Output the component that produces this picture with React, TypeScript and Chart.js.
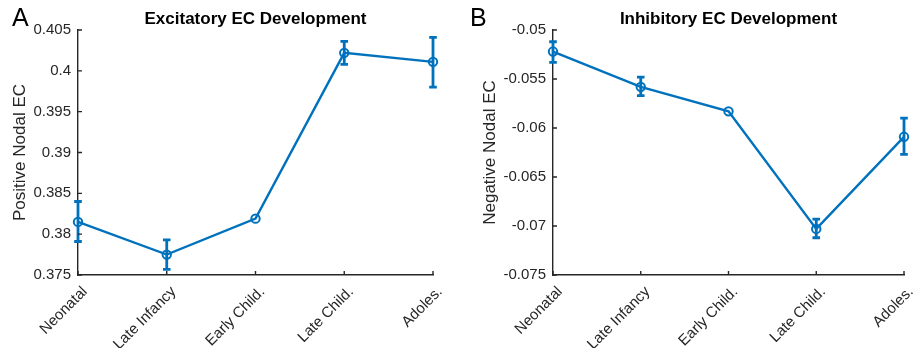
import React, { useEffect, useRef } from 'react';
import { Chart, registerables } from 'chart.js';
Chart.register(...registerables);

const categories = ['Neonatal', 'Late Infancy', 'Early Child.', 'Late Child.', 'Adoles.'];

const excMean = [0.3815, 0.3775, 0.3819, 0.4022, 0.4011];
const excLow = [0.3791, 0.3757, 0.3819, 0.4008, 0.398];
const excHigh = [0.384, 0.3793, 0.3819, 0.4036, 0.4041];
const excTicks = [0.375, 0.38, 0.385, 0.39, 0.395, 0.4, 0.405];

const inhMean = [-0.0522, -0.0558, -0.0583, -0.0703, -0.0609];
const inhLow = [-0.0533, -0.0567, -0.0583, -0.0712, -0.0627];
const inhHigh = [-0.0512, -0.0548, -0.0583, -0.0693, -0.059];
const inhTicks = [-0.075, -0.07, -0.065, -0.06, -0.055, -0.05];

const BLUE = '#0072BD';
const AXIS = '#262626';
const FONT = "'Liberation Sans', Arial, Helvetica, sans-serif";

type PanelProps = {
  left: number;
  width: number;
  height: number;
  axisLeft: number;
  padRight: number;
  yTitlePad: number;
  letter: string;
  title: string;
  yLabel: string;
  mean: number[];
  low: number[];
  high: number[];
  ticks: number[];
};

function Panel(p: PanelProps) {
  const ref = useRef<HTMLCanvasElement | null>(null);
  useEffect(() => {
    if (!ref.current) return;
    const errorBars = {
      id: 'errorBars',
      beforeDatasetsDraw(chart: any) {
        const { ctx } = chart;
        const x = chart.scales.x;
        const y = chart.scales.y;
        ctx.save();
        ctx.strokeStyle = BLUE;
        ctx.lineWidth = 2.8;
        p.mean.forEach((_m, i) => {
          if (Math.abs(p.high[i] - p.low[i]) < 1e-7) return;
          const px = x.getPixelForValue(i);
          const yt = y.getPixelForValue(p.high[i]);
          const yb = y.getPixelForValue(p.low[i]);
          ctx.beginPath();
          ctx.moveTo(px, yt);
          ctx.lineTo(px, yb);
          ctx.moveTo(px - 3.8, yt);
          ctx.lineTo(px + 3.8, yt);
          ctx.moveTo(px - 3.8, yb);
          ctx.lineTo(px + 3.8, yb);
          ctx.stroke();
        });
        ctx.restore();
      },
    };
    const decor = {
      id: 'decor',
      afterDraw(chart: any) {
        const { ctx, chartArea } = chart;
        const x = chart.scales.x;
        const y = chart.scales.y;
        ctx.save();
        ctx.strokeStyle = AXIS;
        ctx.lineWidth = 1.4;
        ctx.beginPath();
        categories.forEach((_c, i) => {
          const px = x.getPixelForValue(i);
          ctx.moveTo(px, chartArea.bottom);
          ctx.lineTo(px, chartArea.bottom - 4);
        });
        p.ticks.forEach((t) => {
          const py = y.getPixelForValue(t);
          ctx.moveTo(chartArea.left, py);
          ctx.lineTo(chartArea.left + 4, py);
        });
        ctx.stroke();
        ctx.fillStyle = '#000';
        ctx.font = `bold 17px ${FONT}`;
        ctx.textAlign = 'center';
        ctx.textBaseline = 'middle';
        ctx.fillText(p.title, (chartArea.left + chartArea.right) / 2, 19);
        ctx.font = `25px ${FONT}`;
        ctx.textAlign = 'left';
        ctx.textBaseline = 'alphabetic';
        ctx.fillText(p.letter, 12, 26);
        ctx.restore();
      },
    };
    const chart = new Chart(ref.current, {
      type: 'line',
      data: {
        labels: categories,
        datasets: [
          {
            data: p.mean,
            borderColor: BLUE,
            borderWidth: 2.4,
            pointStyle: 'circle',
            pointRadius: 4.2,
            pointBorderWidth: 2,
            pointBackgroundColor: 'rgba(0,0,0,0)',
            pointBorderColor: BLUE,
            tension: 0,
            clip: false as any,
          },
        ],
      },
      options: {
        responsive: false,
        animation: false,
        layout: { padding: { top: 30, right: p.padRight, left: 0, bottom: 0 } },
        plugins: { legend: { display: false }, tooltip: { enabled: false }, title: { display: false } },
        scales: {
          x: {
            type: 'category',
            offset: false,
            grid: { display: true, drawOnChartArea: false, drawTicks: false },
            border: { display: true, color: AXIS, width: 1.4 },
            ticks: {
              color: AXIS,
              font: { family: FONT, size: 15 },
              minRotation: 45,
              maxRotation: 45,
              autoSkip: false,
              padding: 8,
              labelOffset: 7,
            },
            afterFit(scale: any) {
              scale.height = p.height - 275;
              scale.paddingLeft = 0;
              scale.paddingRight = 0;
            },
          },
          y: {
            type: 'linear',
            min: p.ticks[0],
            max: p.ticks[p.ticks.length - 1],
            grid: { display: true, drawOnChartArea: false, drawTicks: false },
            border: { display: true, color: AXIS, width: 1.4 },
            afterBuildTicks(scale: any) {
              scale.ticks = p.ticks.map((v) => ({ value: v }));
            },
            ticks: {
              color: AXIS,
              font: { family: FONT, size: 15 },
              padding: 7,
              callback: (v: any) => String(parseFloat(Number(v).toFixed(4))),
            },
            title: {
              display: true,
              text: p.yLabel,
              color: AXIS,
              font: { family: FONT, size: 17 },
              padding: { top: p.yTitlePad, bottom: 0 },
            },
            afterFit(scale: any) {
              scale.width = p.axisLeft;
              scale.paddingTop = 0;
              scale.paddingBottom = 0;
            },
          },
        },
      },
      plugins: [errorBars, decor],
    });
    return () => chart.destroy();
  }, []);
  return (
    <canvas
      ref={ref}
      width={p.width}
      height={p.height}
      style={{ position: 'absolute', left: p.left, top: 0, width: p.width, height: p.height }}
    />
  );
}

export default function App() {
  return (
    <div style={{ position: 'fixed', left: 0, top: 0, width: 915, height: 348, background: '#fff' }}>
      <Panel
        left={0}
        width={458}
        height={348}
        axisLeft={78}
        padRight={25}
        yTitlePad={10}
        letter="A"
        title="Excitatory EC Development"
        yLabel="Positive Nodal EC"
        mean={excMean}
        low={excLow}
        high={excHigh}
        ticks={excTicks}
      />
      <Panel
        left={458}
        width={457}
        height={348}
        axisLeft={95}
        padRight={11}
        yTitlePad={22}
        letter="B"
        title="Inhibitory EC Development"
        yLabel="Negative Nodal EC"
        mean={inhMean}
        low={inhLow}
        high={inhHigh}
        ticks={inhTicks}
      />
    </div>
  );
}
